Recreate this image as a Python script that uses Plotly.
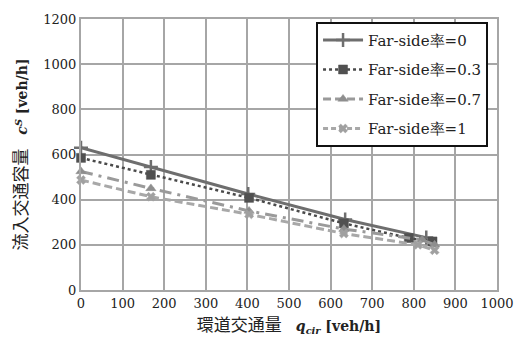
import plotly.graph_objects as go

# Data
names = ["Far-side率=0", "Far-side率=0.3", "Far-side率=0.7", "Far-side率=1"]
x0 = [0, 168, 402, 635, 830]
y0 = [630, 545, 425, 312, 232]
x03 = [0, 168, 404, 632, 788, 845]
y03 = [585, 510, 408, 295, 230, 215]
x07 = [0, 168, 404, 632, 820, 850]
y07 = [525, 450, 350, 270, 222, 200]
x1 = [0, 168, 404, 632, 810, 850]
y1 = [487, 413, 335, 250, 200, 176]

xs = [x0, x03, x07, x1]
ys = [y0, y03, y07, y1]
line_colors = ["#6e6e6e", "#4a4a4a", "#9a9a9a", "#a8a8a8"]
marker_colors = ["#6e6e6e", "#505050", "#8e8e8e", "#a0a0a0"]
plot_dash = ["solid", "dot", "12px,6px,3px,6px", "8px,4px"]
legend_dash = ["solid", "dot", "8px,4px", "5px,3px"]
symbols = ["cross-thin", "square", "triangle-up", "x"]
msize = [10, 9, 9, 8]

SERIF = "DejaVu Serif"
CJK = "font-family:Noto Sans CJK JP;font-size:17px;fill:#222222;color:#222222"

fig = go.Figure()
for i in range(4):
    if i == 0:
        mk = dict(symbol=symbols[i], size=msize[i], color=marker_colors[i],
                  line=dict(color=marker_colors[i], width=2.5))
    else:
        mk = dict(symbol=symbols[i], size=msize[i], color=marker_colors[i],
                  line=dict(color=marker_colors[i], width=0.5))
    fig.add_trace(go.Scatter(x=xs[i], y=ys[i], mode="lines+markers", cliponaxis=False,
                             line=dict(color=line_colors[i], width=3 if i != 1 else 2.5,
                                       dash=plot_dash[i]),
                             marker=mk, showlegend=False))
for i in range(4):
    if i == 0:
        mk = dict(symbol=symbols[i], size=msize[i], color=marker_colors[i],
                  line=dict(color=marker_colors[i], width=2.5))
    else:
        mk = dict(symbol=symbols[i], size=msize[i], color=marker_colors[i],
                  line=dict(color=marker_colors[i], width=0.5))
    fig.add_trace(go.Scatter(x=[None], y=[None], mode="lines+markers", name=names[i],
                             legendgroup="g%d" % i,
                             line=dict(color=line_colors[i], width=3 if i != 1 else 2.5,
                                       dash=legend_dash[i]),
                             marker=mk, showlegend=True))

grid = "#a6a6a6"
tickfont = dict(family=SERIF, size=13, color="#222")
fig.update_layout(
    width=528, height=347,
    margin=dict(l=81, r=31, t=14, b=57),
    paper_bgcolor="white", plot_bgcolor="white",
    font=dict(family=SERIF, size=13, color="#222"),
    legend=dict(x=0.565, y=0.99, xanchor="left", yanchor="top",
                bgcolor="white", bordercolor="#111", borderwidth=2,
                font=dict(family=SERIF, size=15, color="#222"),
                tracegroupgap=7, itemwidth=40),
    xaxis=dict(range=[0, 1000], dtick=100, showgrid=True, gridcolor=grid, gridwidth=2,
               showline=True, linecolor=grid, linewidth=2, mirror=True,
               zeroline=False, ticks="", tickfont=tickfont,
               title=dict(text="<span style='" + CJK + "'>環道交通量</span>　<b><i>q<sub>cir</sub></i> [veh/h]</b>",
                          font=dict(family=SERIF, size=14, color="#222"), standoff=7)),
    yaxis=dict(range=[0, 1200], dtick=200, showgrid=True, gridcolor=grid, gridwidth=2,
               showline=True, linecolor=grid, linewidth=2, mirror=True,
               zeroline=False, ticks="", tickfont=tickfont,
               title=dict(text="<span style='" + CJK + "'>流入交通容量</span>　<b><i>c<sup>S</sup></i> [veh/h]</b>",
                          font=dict(family=SERIF, size=14, color="#222"), standoff=12)),
)
fig.write_html("out.html")
